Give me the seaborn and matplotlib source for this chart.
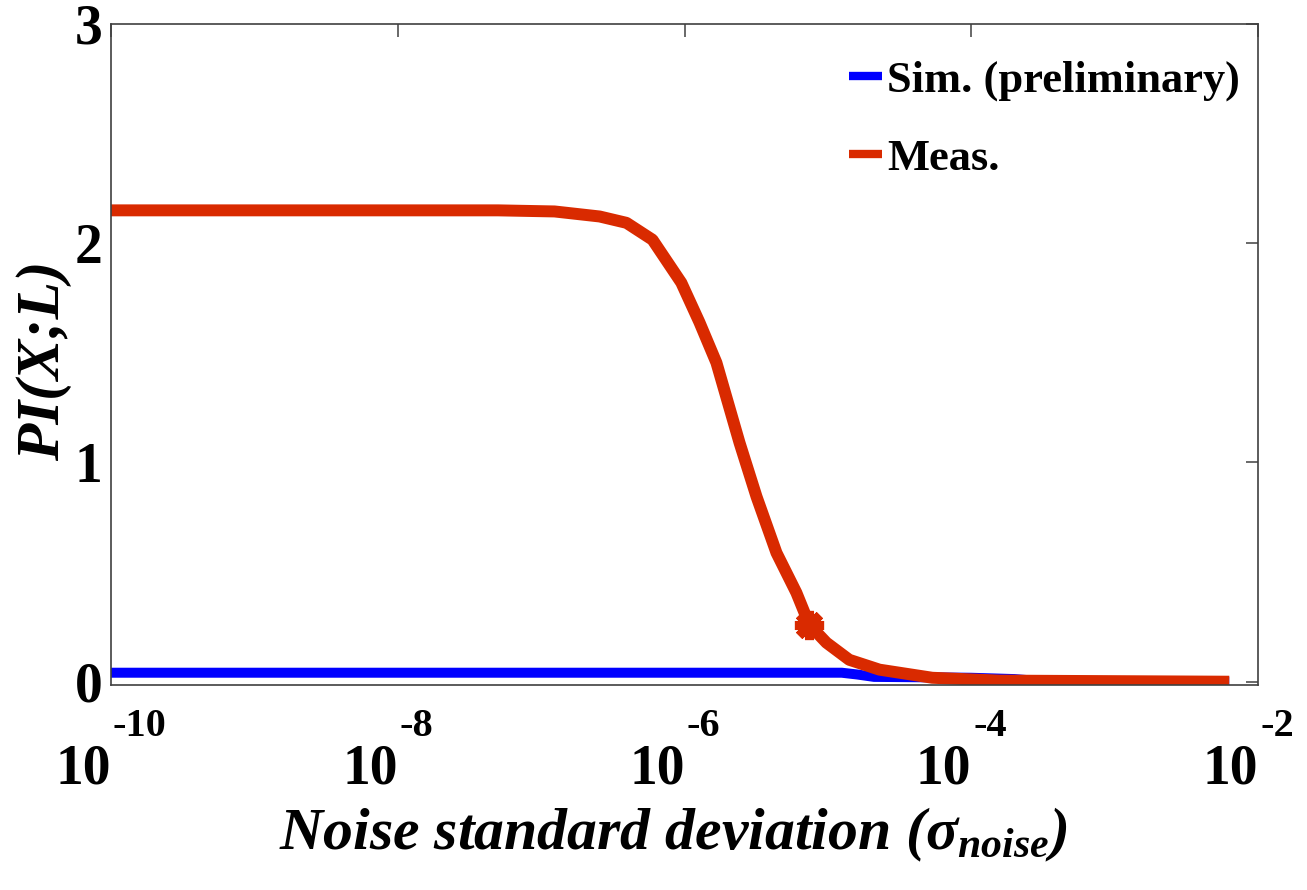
import matplotlib
matplotlib.use("Agg")
import matplotlib.pyplot as plt
import numpy as np
import pandas as pd
import seaborn as sns

# ---------------- data ----------------
sigma_sim = [1e-10, 1e-9, 1e-8, 1e-7, 1e-6, 1.0e-5, 1.25e-5, 1.6e-5, 2.1e-5,
             5.0e-5, 1.0e-4, 2.0e-4, 3.0e-4, 6.3e-3]
pi_sim = [0.041, 0.041, 0.041, 0.041, 0.041, 0.041, 0.041, 0.033, 0.022,
          0.020, 0.018, 0.012, 0.003, 0.0]

sigma_meas = [1e-10, 1e-9, 1e-8, 5e-8, 1.24e-7, 2.56e-7, 3.94e-7, 5.98e-7,
              9.5e-7, 1.27e-6, 1.67e-6, 2.42e-6, 3.18e-6, 4.38e-6, 6.03e-6,
              7.43e-6, 9.77e-6, 1.41e-5, 2.29e-5, 5.35e-5, 1.58e-4, 6.3e-3]
pi_meas = [2.15, 2.15, 2.15, 2.15, 2.145, 2.122, 2.093, 2.016,
           1.82, 1.64, 1.455, 1.09, 0.844, 0.588, 0.406,
           0.26, 0.178, 0.10, 0.055, 0.018, 0.005, 0.0]

marker_sigma = [7.43e-6]
marker_pi = [0.26]

x_tick_exps = [-10, -8, -6, -4, -2]
y_ticks = [0, 1, 2, 3]
legend_labels = ["Sim. (preliminary)", "Meas."]
x_label = r"Noise standard deviation ($\sigma_{noise}$)"
y_label = "PI(X;L)"

BLUE = "#0000ff"
RED = "#d92a00"

# ---------------- style ----------------
sns.set_theme(style="white")
plt.rcParams["font.family"] = ["Liberation Serif", "DejaVu Serif"]
plt.rcParams["mathtext.fontset"] = "custom"
plt.rcParams["mathtext.it"] = "Liberation Serif:italic:bold"
plt.rcParams["mathtext.rm"] = "Liberation Serif:italic:bold"
plt.rcParams["mathtext.bf"] = "Liberation Serif:bold"
for k in ["text.color", "axes.labelcolor", "xtick.color", "ytick.color"]:
    plt.rcParams[k] = "black"

W, H = 1307, 890
fig = plt.figure(figsize=(W / 100, H / 100), dpi=100)
L, R, T, B = 111, 1258, 24, 685
ax = fig.add_axes([L / W, 1 - B / H, (R - L) / W, (B - T) / H])

df_sim = pd.DataFrame({"sigma": sigma_sim, "pi": pi_sim})
df_meas = pd.DataFrame({"sigma": sigma_meas, "pi": pi_meas})

sns.lineplot(data=df_sim, x="sigma", y="pi", ax=ax, color=BLUE, lw=7.2,
             label=legend_labels[0], solid_capstyle="butt")
sns.lineplot(data=df_meas, x="sigma", y="pi", ax=ax, color=RED, lw=8.6,
             label=legend_labels[1], solid_capstyle="butt")
sns.lineplot(x=marker_sigma, y=marker_pi, ax=ax, color=RED, marker=(8, 2, 0),
             markersize=21, markeredgewidth=6.5, markeredgecolor=RED,
             markerfacecolor=RED, linestyle="none")

ax.set_xscale("log")
ax.set_xlim(1e-10, 1e-2)
ax.set_ylim(-0.015, 3)
ax.minorticks_off()

ax.set_xticks([10.0 ** e for e in x_tick_exps])
ax.set_xticklabels(["10"] * len(x_tick_exps), fontsize=40, fontweight="bold")
for lab in ax.get_xticklabels():
    lab.set_ha("right")
ax.set_yticks(y_ticks)
ax.set_yticklabels([str(v) for v in y_ticks], fontsize=40, fontweight="bold")

ax.tick_params(axis="both", direction="in", length=9, width=1.1,
               color="#404040", top=True, right=True)
ax.tick_params(axis="x", pad=42)
ax.tick_params(axis="y", pad=6)

for e in x_tick_exps:
    ax.annotate(f"{e}", xy=(10.0 ** e, 0), xycoords=("data", "axes fraction"),
                xytext=(2, -23), textcoords="offset pixels", ha="left", va="top",
                fontsize=29, fontweight="bold", annotation_clip=False)

for s in ax.spines.values():
    s.set_color("#404040")
    s.set_linewidth(1.2)
    s.set_visible(True)

ax.set_xlabel(x_label, fontsize=43, fontweight="bold", fontstyle="italic")
ax.xaxis.set_label_coords(0.49, -0.183)
ax.set_ylabel(y_label, fontsize=44, fontweight="bold", fontstyle="italic")
ax.yaxis.set_label_coords(-0.034, 0.49)

leg = ax.legend(loc="upper right", bbox_to_anchor=(0.984, 0.945), frameon=False,
                prop={"family": "Liberation Serif", "weight": "bold", "size": 32},
                handlelength=0.75, handletextpad=0.1, labelspacing=0.85,
                borderpad=0, borderaxespad=0)
for line in leg.get_lines():
    line.set_linewidth(6)

fig.savefig("out.png", dpi=100, facecolor="white")
